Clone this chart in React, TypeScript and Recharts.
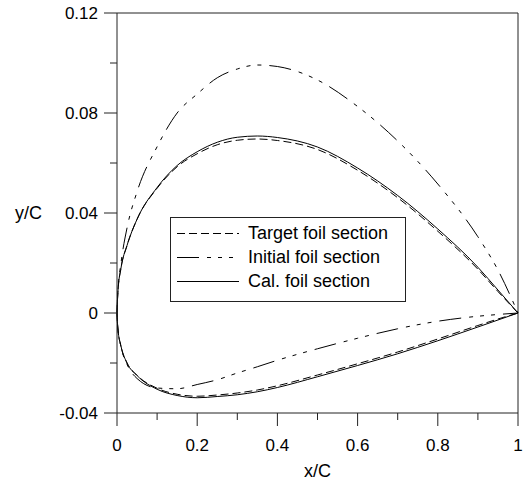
import { LineChart, Line, XAxis, YAxis, ReferenceLine } from "recharts";

// chord stations shared by every surface
const xStations = [0, 0.002, 0.01, 0.025, 0.05, 0.1, 0.15, 0.2, 0.25, 0.3, 0.35, 0.4, 0.5, 0.6, 0.7, 0.8, 0.9, 0.95, 1];

const targetUpper = [0, 0.008, 0.018, 0.027, 0.0375, 0.0499, 0.0585, 0.0637, 0.0673, 0.0691, 0.0696, 0.069, 0.0654, 0.0571, 0.0461, 0.0327, 0.0175, 0.0086, 0];
const targetLower = [0, -0.006, -0.0133, -0.02, -0.0249, -0.0301, -0.0325, -0.0333, -0.0328, -0.032, -0.0308, -0.0291, -0.0248, -0.0203, -0.0156, -0.0104, -0.005, -0.0024, 0];

const initialUpper = [0, 0.008, 0.02, 0.034, 0.0485, 0.0665, 0.08, 0.0876, 0.0941, 0.0976, 0.0992, 0.0986, 0.0932, 0.0826, 0.0688, 0.0516, 0.0305, 0.0172, 0];
const initialLower = [0, -0.006, -0.0135, -0.0205, -0.0262, -0.03, -0.0303, -0.0286, -0.0267, -0.024, -0.0215, -0.0189, -0.0143, -0.0101, -0.0063, -0.0033, -0.0013, -0.0006, 0];

const calUpper = [0, 0.008, 0.018, 0.027, 0.0375, 0.0502, 0.059, 0.0645, 0.0683, 0.0703, 0.0708, 0.0702, 0.0664, 0.058, 0.047, 0.0336, 0.0183, 0.0092, 0];
const calLower = [0, -0.006, -0.0133, -0.02, -0.025, -0.0305, -0.033, -0.0339, -0.0334, -0.0327, -0.0315, -0.0298, -0.0255, -0.021, -0.0163, -0.0111, -0.0056, -0.0028, 0];

const xTicks = [0, 0.1, 0.2, 0.3, 0.4, 0.5, 0.6, 0.7, 0.8, 0.9, 1];
const xTickLabels = ["0", "", "0.2", "", "0.4", "", "0.6", "", "0.8", "", "1"];
const yTicks = [-0.04, -0.02, 0, 0.02, 0.04, 0.06, 0.08, 0.1, 0.12];
const yTickLabels = ["-0.04", "", "0", "", "0.04", "", "0.08", "", "0.12"];

const rows = xStations.map((x, i) => ({
  x,
  targetUpper: targetUpper[i],
  targetLower: targetLower[i],
  initialUpper: initialUpper[i],
  initialLower: initialLower[i],
  calUpper: calUpper[i],
  calLower: calLower[i],
}));

const INK = "#000";
const AXIS = "#222";
const TARGET_DASH = "8 4";
const INITIAL_DASH = "22 8 4 7 4 7 4 8";
const FONT = "'Liberation Sans', Arial, sans-serif";

function findIdx(list: number[], v: number) {
  return list.findIndex((t) => Math.abs(t - v) < 1e-9);
}

function XTick({ x, y, payload }: any) {
  const label = xTickLabels[findIdx(xTicks, payload.value)] ?? "";
  const major = label !== "";
  return (
    <g>
      <line x1={x} x2={x} y1={y} y2={y + (major ? 13 : 7)} stroke={AXIS} />
      {major && (
        <text x={x} y={y + 38} textAnchor="middle" fontSize={17} fill={INK}>
          {label}
        </text>
      )}
    </g>
  );
}

function YTick({ x, y, payload }: any) {
  const label = yTickLabels[findIdx(yTicks, payload.value)] ?? "";
  const major = label !== "";
  return (
    <g>
      <line x1={x - (major ? 13 : 7)} x2={x} y1={y} y2={y} stroke={AXIS} />
      {major && (
        <text x={x - 19} y={y + 6} textAnchor="end" fontSize={17} fill={INK}>
          {label}
        </text>
      )}
    </g>
  );
}

const legendItems = [
  { name: "Target foil section", dash: TARGET_DASH },
  { name: "Initial foil section", dash: INITIAL_DASH },
  { name: "Cal. foil section", dash: undefined },
];

function FoilLegend() {
  return (
    <div
      style={{
        position: "absolute",
        left: 170,
        top: 217,
        width: 234,
        height: 80,
        border: `1px solid ${AXIS}`,
        background: "#fff",
        paddingTop: 3,
        boxSizing: "content-box",
      }}
    >
      {legendItems.map((item) => (
        <div key={item.name} style={{ height: 24, display: "flex", alignItems: "center" }}>
          <svg width={62} height={24} style={{ marginLeft: 6, marginRight: 9, display: "block" }}>
            <line x1={0} x2={62} y1={12.5} y2={12.5} stroke={INK} strokeDasharray={item.dash} />
          </svg>
          <span style={{ fontSize: 18, lineHeight: "24px", color: INK }}>{item.name}</span>
        </div>
      ))}
    </div>
  );
}

export default function App() {
  return (
    <div style={{ position: "absolute", left: 0, top: 0, width: 524, height: 480, fontFamily: FONT, background: "#fff" }}>
      <LineChart width={524} height={480} data={rows} margin={{ top: 13, right: 6, bottom: 0, left: 0 }}>
        <XAxis
          dataKey="x"
          type="number"
          domain={[0, 1]}
          ticks={xTicks}
          interval={0}
          tick={<XTick />}
          tickLine={false}
          tickSize={0}
          tickMargin={0}
          axisLine={{ stroke: AXIS }}
          height={67}
          label={{ value: "x/C", position: "insideBottom", offset: 3, fontSize: 18, fill: INK }}
        />
        <YAxis
          type="number"
          domain={[-0.04, 0.12]}
          ticks={yTicks}
          interval={0}
          tick={<YTick />}
          tickLine={false}
          tickSize={0}
          tickMargin={0}
          axisLine={{ stroke: AXIS }}
          width={117}
          label={{ value: "y/C", position: "insideLeft", offset: 15, angle: 0, fontSize: 18, fill: INK }}
        />
        <ReferenceLine y={0.12} stroke={AXIS} />
        <ReferenceLine x={1} stroke={AXIS} />

        <Line dataKey="initialUpper" type="monotone" stroke={INK} strokeWidth={1} strokeDasharray={INITIAL_DASH} dot={false} activeDot={false} isAnimationActive={false} />
        <Line dataKey="initialLower" type="monotone" stroke={INK} strokeWidth={1} strokeDasharray={INITIAL_DASH} dot={false} activeDot={false} isAnimationActive={false} />
        <Line dataKey="targetUpper" type="monotone" stroke={INK} strokeWidth={1} strokeDasharray={TARGET_DASH} dot={false} activeDot={false} isAnimationActive={false} />
        <Line dataKey="targetLower" type="monotone" stroke={INK} strokeWidth={1} strokeDasharray={TARGET_DASH} dot={false} activeDot={false} isAnimationActive={false} />
        <Line dataKey="calUpper" type="monotone" stroke={INK} strokeWidth={1} dot={false} activeDot={false} isAnimationActive={false} />
        <Line dataKey="calLower" type="monotone" stroke={INK} strokeWidth={1} dot={false} activeDot={false} isAnimationActive={false} />
      </LineChart>
      <FoilLegend />
    </div>
  );
}
